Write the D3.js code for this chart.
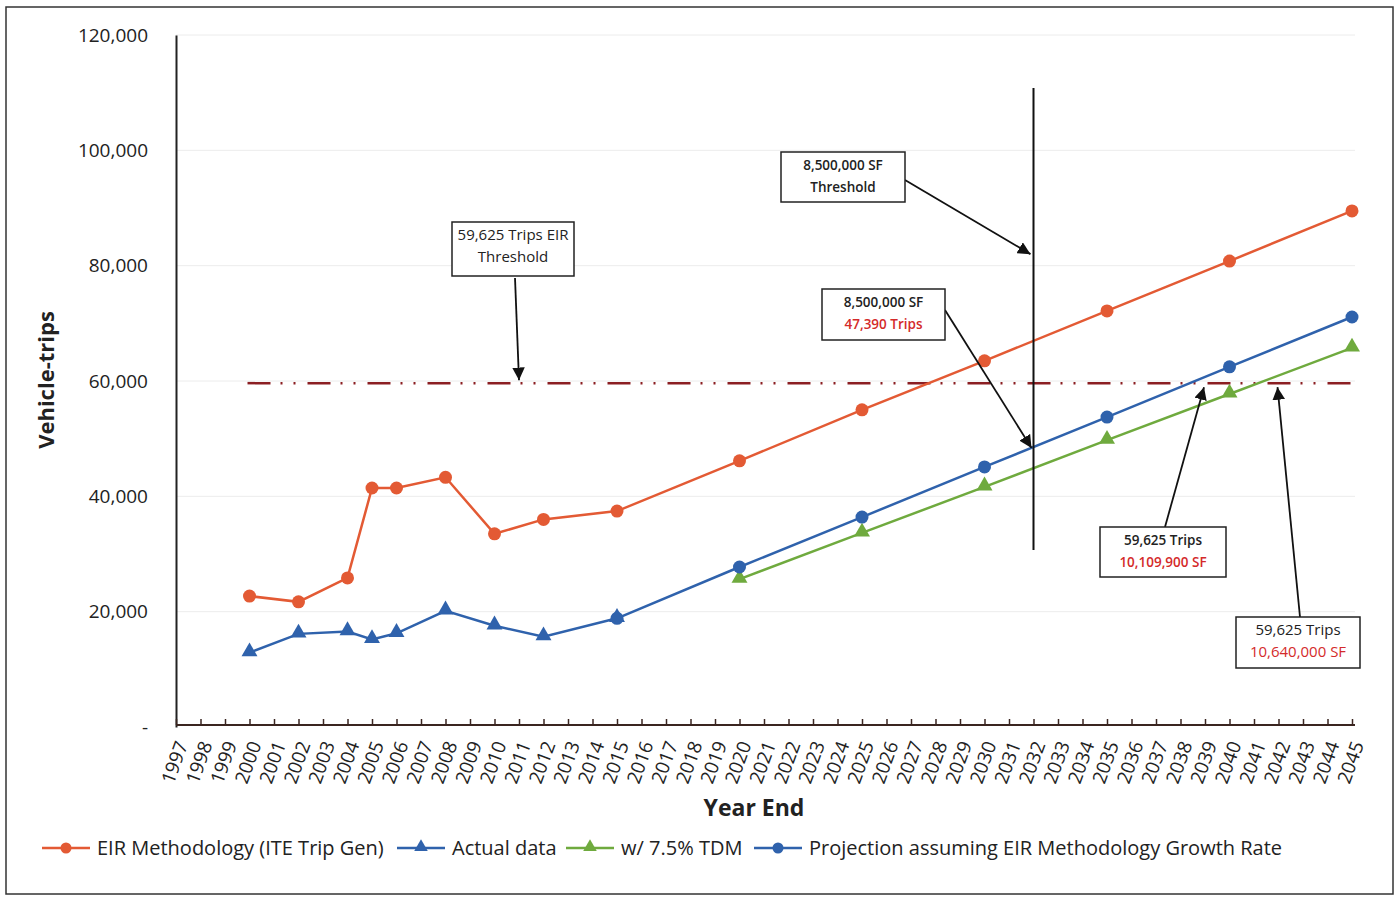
<!DOCTYPE html>
<html>
<head>
<meta charset="utf-8">
<script src="https://cdn.jsdelivr.net/npm/d3@7"></script>
<style>
  body { margin: 0; background: #fff; }
  svg text { font-family: "Open Sans", "DejaVu Sans", sans-serif; }
</style>
</head>
<body>
<div id="chart"></div>
<script>
// Years on the category axis
const years = d3.range(1997, 2046).map(String);

// EIR Methodology (ITE Trip Gen)
const eirYears = ["2000","2002","2004","2005","2006","2008","2010","2012","2015","2020","2025","2030","2035","2040","2045"];
const eirValues = [22700, 21700, 25850, 41450, 41450, 43300, 33500, 36000, 37450, 46150, 55000, 63500, 72150, 80800, 89500];

// Actual data
const actualYears = ["2000","2002","2004","2005","2006","2008","2010","2012","2015"];
const actualValues = [12900, 16150, 16550, 15200, 16250, 20150, 17550, 15650, 18850];

// w/ 7.5% TDM
const tdmYears = ["2020","2025","2030","2035","2040","2045"];
const tdmValues = [25650, 33650, 41650, 49750, 57750, 65750];

// Projection assuming EIR Methodology Growth Rate
const projYears = ["2015","2020","2025","2030","2035","2040","2045"];
const projValues = [18850, 27750, 36400, 45100, 53750, 62450, 71100];

const yTicks = [0, 20000, 40000, 60000, 80000, 100000, 120000];
const threshold = 59625;
const thresholdSpan = ["2000", "2045"];
const sfYear = "2032";
const sfExtent = [30700, 110800];

const width = 1398, height = 902;
const svg = d3.select("#chart").append("svg")
  .attr("width", width).attr("height", height);

// frame
svg.append("rect")
  .attr("x", 6).attr("y", 7).attr("width", 1387).attr("height", 887)
  .attr("fill", "none").attr("stroke", "#333").attr("stroke-width", 1.5);

const x = d3.scalePoint().domain(years).range([176, 1352]);
const y = d3.scaleLinear().domain([0, 120000]).range([727, 35]);

// gridlines
svg.append("g").selectAll("line")
  .data(yTicks.slice(1))
  .enter().append("line")
  .attr("x1", 176).attr("x2", 1355)
  .attr("y1", d => y(d)).attr("y2", d => y(d))
  .attr("stroke", "#ececec").attr("stroke-width", 1);

// y axis
const yAxis = svg.append("g")
  .attr("transform", "translate(176,0)")
  .call(d3.axisLeft(y).tickValues(yTicks).tickSize(0).tickPadding(28)
    .tickFormat(d => d === 0 ? "-" : d3.format(",")(d)));
yAxis.select(".domain").attr("stroke", "#222").attr("stroke-width", 2);
yAxis.selectAll("text").attr("font-size", 19).attr("fill", "#222")
  .attr("font-family", "Open Sans");

svg.append("text")
  .attr("transform", "translate(54,380) rotate(-90)")
  .attr("text-anchor", "middle")
  .attr("font-size", 22).attr("font-weight", "bold").attr("fill", "#222")
  .text("Vehicle-trips");

// x axis
const xAxis = svg.append("g")
  .attr("transform", "translate(0,725)")
  .call(d3.axisTop(x).tickSize(6).tickFormat(""));
xAxis.select(".domain").attr("stroke", "#3a2520").attr("stroke-width", 2)
  .attr("d", "M176,0H1355");
xAxis.selectAll(".tick line").attr("stroke", "#3a2520").attr("stroke-width", 1.5);

svg.append("g").selectAll("text")
  .data(years)
  .enter().append("text")
  .attr("transform", d => `translate(${x(d) + 6},742) rotate(-70)`)
  .attr("text-anchor", "end")
  .attr("dy", "0.35em")
  .attr("font-size", 19).attr("fill", "#222")
  .text(d => d);

svg.append("text")
  .attr("x", 754).attr("y", 816)
  .attr("text-anchor", "middle")
  .attr("font-size", 23).attr("font-weight", "bold").attr("fill", "#222")
  .text("Year End");

// threshold line
svg.append("line")
  .attr("x1", x(thresholdSpan[0]) - 2).attr("x2", x(thresholdSpan[1]) + 3)
  .attr("y1", y(threshold)).attr("y2", y(threshold))
  .attr("stroke", "#8b1e22").attr("stroke-width", 2.5)
  .attr("stroke-dasharray", "23 10 2 11 2 12");

// series
const series = [
  { name: "EIR Methodology (ITE Trip Gen)", xs: eirYears, vs: eirValues, color: "#e35a34", marker: "circle" },
  { name: "Actual data", xs: actualYears, vs: actualValues, color: "#2f62ac", marker: "triangle" },
  { name: "w/ 7.5% TDM", xs: tdmYears, vs: tdmValues, color: "#6faa3e", marker: "triangle" },
  { name: "Projection assuming EIR Methodology Growth Rate", xs: projYears, vs: projValues, color: "#2f62ac", marker: "circle" }
];

const line = d3.line().x(d => x(d[0])).y(d => y(d[1]));
const tri = d3.symbol().type(d3.symbolTriangle).size(110);

series.forEach(s => {
  const pts = s.xs.map((k, i) => [k, s.vs[i]]);
  svg.append("path")
    .datum(pts)
    .attr("d", line)
    .attr("fill", "none").attr("stroke", s.color).attr("stroke-width", 2.5);
  const g = svg.append("g");
  if (s.marker === "circle") {
    g.selectAll("circle").data(pts).enter().append("circle")
      .attr("cx", d => x(d[0])).attr("cy", d => y(d[1])).attr("r", 6.5)
      .attr("fill", s.color);
  } else {
    g.selectAll("path").data(pts).enter().append("path")
      .attr("d", tri)
      .attr("transform", d => `translate(${x(d[0])},${y(d[1]) - 1})`)
      .attr("fill", s.color);
  }
});

// vertical 8,500,000 SF line
svg.append("line")
  .attr("x1", x(sfYear)).attr("x2", x(sfYear))
  .attr("y1", y(sfExtent[1])).attr("y2", y(sfExtent[0]))
  .attr("stroke", "#111").attr("stroke-width", 2);

// annotations
svg.append("defs").append("marker")
  .attr("id", "arrow").attr("viewBox", "0 0 10 10")
  .attr("refX", 10).attr("refY", 5)
  .attr("markerWidth", 7).attr("markerHeight", 7)
  .attr("orient", "auto")
  .append("path").attr("d", "M0,0L10,5L0,10z").attr("fill", "#111");

const notes = [
  { box: [452, 222, 122, 54], lines: ["59,625 Trips EIR", "Threshold"], red: [false, false], bold: false, from: [515, 278], to: [x("2011"), y(threshold) - 3] },
  { box: [781, 152, 124, 50], lines: ["8,500,000 SF", "Threshold"], red: [false, false], bold: true, from: [905, 180], to: [x(sfYear) - 3, y(82000)] },
  { box: [822, 289, 123, 51], lines: ["8,500,000 SF", "47,390 Trips"], red: [false, true], bold: true, from: [945, 310], to: [x(sfYear) - 2, y(48400)] },
  { box: [1100, 527, 126, 50], lines: ["59,625 Trips", "10,109,900 SF"], red: [false, true], bold: true, from: [1165, 527], to: [x("2039") - 1, y(threshold) + 4] },
  { box: [1236, 617, 124, 51], lines: ["59,625 Trips", "10,640,000 SF"], red: [false, true], bold: false, from: [1300, 617], to: [x("2042") - 1, y(threshold) + 4] }
];

notes.forEach(n => {
  svg.append("line")
    .attr("x1", n.from[0]).attr("y1", n.from[1])
    .attr("x2", n.to[0]).attr("y2", n.to[1])
    .attr("stroke", "#111").attr("stroke-width", 1.8)
    .attr("marker-end", "url(#arrow)");
  svg.append("rect")
    .attr("x", n.box[0]).attr("y", n.box[1])
    .attr("width", n.box[2]).attr("height", n.box[3])
    .attr("fill", "#fff").attr("stroke", "#222").attr("stroke-width", 1.5);
  n.lines.forEach((t, i) => {
    svg.append("text")
      .attr("x", n.box[0] + n.box[2] / 2)
      .attr("y", n.box[1] + 18 + i * 22)
      .attr("text-anchor", "middle")
      .attr("font-size", n.bold ? 13.5 : 15)
      .attr("font-weight", n.bold ? 600 : "normal")
      .attr("fill", n.red[i] ? "#d42a2a" : "#222")
      .text(t);
  });
});

// legend
const legendX = [42, 397, 566, 754];
const leg = svg.append("g");
series.forEach((s, i) => {
  const lx = legendX[i], ly = 848;
  leg.append("line")
    .attr("x1", lx).attr("x2", lx + 48).attr("y1", ly).attr("y2", ly)
    .attr("stroke", s.color).attr("stroke-width", 2.5);
  if (s.marker === "circle") {
    leg.append("circle").attr("cx", lx + 24).attr("cy", ly).attr("r", 5.5).attr("fill", s.color);
  } else {
    leg.append("path").attr("d", d3.symbol().type(d3.symbolTriangle).size(80))
      .attr("transform", `translate(${lx + 24},${ly - 1})`).attr("fill", s.color);
  }
  leg.append("text")
    .attr("x", lx + 55).attr("y", ly).attr("dy", "0.35em")
    .attr("font-size", 20).attr("fill", "#222")
    .text(s.name);
});
</script>
</body>
</html>
